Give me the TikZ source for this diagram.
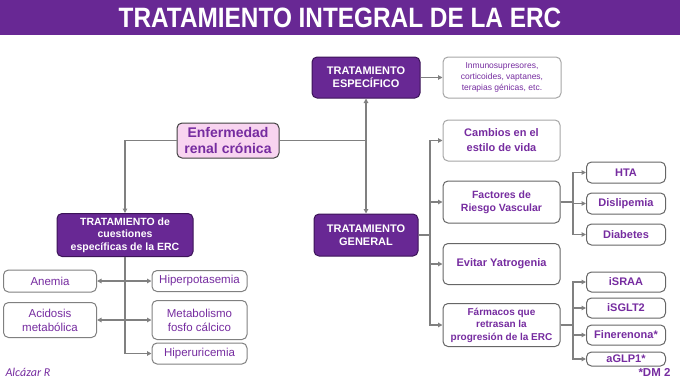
\documentclass[tikz,border=0pt]{standalone}
\usepackage{fontspec}
\setmainfont{Liberation Sans}
\newfontfamily\authorfont{Carlito}
\usepackage{graphicx}
\usetikzlibrary{arrows.meta,positioning}
\definecolor{ercpurple}{RGB}{104,40,148}
\definecolor{ercdark}{RGB}{60,20,88}
\definecolor{erctext}{RGB}{118,44,160}
\definecolor{ercpink}{RGB}{248,212,240}
\definecolor{ercgrey}{RGB}{128,128,128}

\begin{document}
\begin{tikzpicture}[
  x=1pt, y=-1pt,
  darkbox/.style={rectangle, draw=ercdark, line width=1pt, rounded corners=5pt, fill=ercpurple, text=white, font=\bfseries\fontsize{11}{13}\selectfont, align=center, inner sep=0pt},
  pinkbox/.style={rectangle, draw=black!75, line width=1pt, rounded corners=5pt, fill=ercpink, text=erctext, font=\bfseries\fontsize{14}{16}\selectfont, align=center, inner sep=0pt},
  whitebox/.style={rectangle, draw=black!60, line width=1pt, rounded corners=5pt, fill=white, text=erctext, font=\bfseries\fontsize{10.5}{13}\selectfont, align=center, inner sep=0pt},
  lightbox/.style={whitebox, draw=black!35},
  leafbox/.style={whitebox, font=\bfseries\fontsize{11}{13}\selectfont, minimum width=79pt, minimum height=21pt},
  leftbox/.style={whitebox, draw=black!50, font=\fontsize{11.5}{14}\selectfont},
  conn/.style={ercgrey, line width=1.5pt},
  arr/.style={conn, -{Triangle[length=4.5pt,width=4.5pt]}},
]
% cabecera
\fill[ercpurple] (0,0) rectangle (680,35);
\node[text=white] (title) at (340,17.5) {\scalebox{0.87}[1]{\fontsize{28}{30}\selectfont\bfseries TRATAMIENTO INTEGRAL DE LA ERC}};

% nodos principales
\node[pinkbox, minimum width=102pt, minimum height=35pt] (enf) at (228,140.5) {Enfermedad\\renal crónica};
\node[darkbox, minimum width=108pt, minimum height=41pt] (esp) at (366,77.5) {TRATAMIENTO\\ESPECÍFICO};
\node[lightbox, font=\fontsize{8.5}{11}\selectfont, minimum width=118pt, minimum height=41pt] (inmuno) at (502,77.5) {Inmunosupresores,\\corticoides, vaptanes,\\terapias génicas, etc.};
\node[darkbox, minimum width=104pt, minimum height=42pt] (gen) at (366,235) {TRATAMIENTO\\GENERAL};
\node[darkbox, font=\bfseries\fontsize{10.5}{12.5}\selectfont, minimum width=136pt, minimum height=43pt] (cuest) at (125,235) {TRATAMIENTO de\\cuestiones\\específicas de la ERC};

% tratamiento general
\node[lightbox, font=\bfseries\fontsize{11}{15}\selectfont, minimum width=117pt, minimum height=41pt] (cambios) at (501.5,140.5) {Cambios en el\\estilo de vida};
\node[whitebox, minimum width=117pt, minimum height=42pt] (factores) at (501.5,202) {Factores de\\Riesgo Vascular};
\node[whitebox, font=\bfseries\fontsize{11}{13}\selectfont, minimum width=117pt, minimum height=41pt] (evitar) at (501.5,264) {Evitar Yatrogenia};
\node[whitebox, font=\bfseries\fontsize{10}{12.5}\selectfont, minimum width=117pt, minimum height=43pt] (farm) at (501.5,325) {Fármacos que\\retrasan la\\progresión de la ERC};

\node[leafbox] (hta) at (626,172.5) {HTA};
\node[leafbox, below=9pt of hta] (dislip) {Dislipemia};
\node[leafbox, below=9pt of dislip] (diab) {Diabetes};

\node[leafbox, minimum height=20pt] (israa) at (626,282) {iSRAA};
\node[leafbox, minimum height=20pt, below=5pt of israa] (isglt) {iSGLT2};
\node[leafbox, minimum height=20pt, below=6pt of isglt] (fine) {Finerenona*};
\node[leafbox, minimum height=14pt, below=6pt of fine] (aglp) {aGLP1*};

% cuestiones especificas
\node[leftbox, minimum width=93pt, minimum height=22pt] (anemia) at (50,281) {Anemia};
\node[leftbox, minimum width=93pt, minimum height=35pt] (acid) at (50,320) {Acidosis\\metabólica};
\node[leftbox, minimum width=95pt, minimum height=21pt] (hiperpot) at (199.5,281) {Hiperpotasemia};
\node[leftbox, minimum width=95pt, minimum height=39pt] (metab) at (199.5,320) {Metabolismo\\fosfo cálcico};
\node[leftbox, minimum width=95pt, minimum height=21pt] (hiperur) at (199.5,353.5) {Hiperuricemia};

% pie
\node[anchor=west, text=erctext, font=\authorfont\itshape\fontsize{12}{14}\selectfont] (autor) at (2,372) {Alcázar R};
\node[anchor=east, text=erctext, font=\bfseries\fontsize{11.5}{13}\selectfont] (dm) at (674,372) {*DM 2};

% conectores
\coordinate (jn) at (gen.north |- enf.east);
\draw[arr] (enf.west) -| (cuest.north);
\draw[conn] (enf.east) -- (jn);
\draw[arr] (jn) -- (esp.south);
\draw[arr] (jn) -- (gen.north);
\draw[arr] (esp.east) -- (inmuno.west);

\coordinate (gt) at (430,0);
\foreach \n in {cambios,factores,evitar,farm}
  \draw[arr] (gen.east) -- (gen.east -| gt) |- (\n.west);

\coordinate (ft) at (573,0);
\foreach \n in {hta,dislip,diab}
  \draw[arr] (factores.east) -- (factores.east -| ft) |- (\n.west);
\foreach \n in {israa,isglt,fine,aglp}
  \draw[arr] (farm.east) -- (farm.east -| ft) |- (\n.west);

\foreach \n in {hiperpot,metab,hiperur}
  \draw[arr] (cuest.south) |- (\n.west);
\foreach \n in {anemia,acid}
  \draw[arr] (cuest.south) |- (\n.east);

\useasboundingbox (0,0) rectangle (680,380);
\end{tikzpicture}
\end{document}
